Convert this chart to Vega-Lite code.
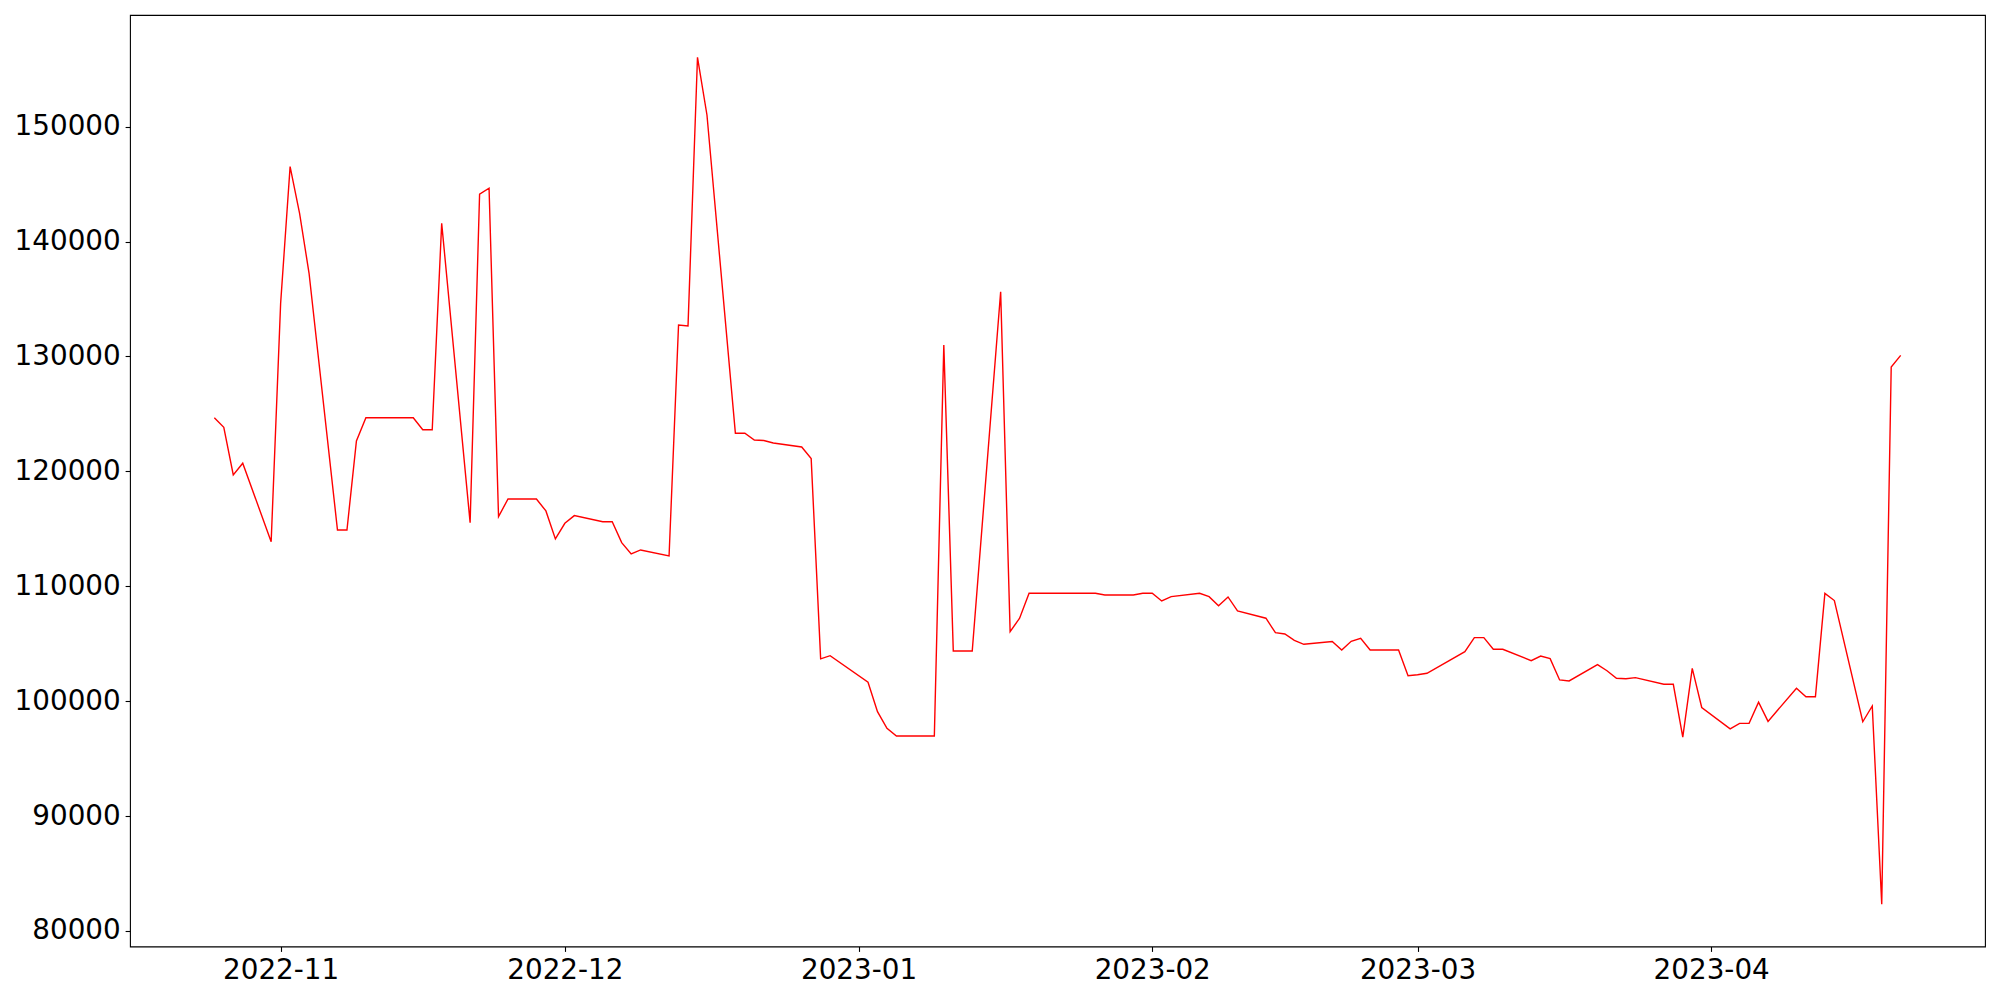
{
  "$schema": "https://vega.github.io/schema/vega-lite/v6.json",
  "autosize": {"type": "none"},
  "width": 1855,
  "height": 931.5,
  "padding": {"left": 130, "top": 15, "right": 15, "bottom": 53.5},
  "background": "white",
  "config": {
    "view": {"stroke": "black", "strokeWidth": 1.1},
    "axis": {
      "domain": false,
      "grid": false,
      "ticks": true,
      "tickSize": 4.9,
      "tickWidth": 1.1,
      "tickColor": "black",
      "labelFont": "DejaVu Sans",
      "labelFontSize": 27.8,
      "labelColor": "black",
      "labelPadding": 4.9,
      "title": null
    }
  },
  "data": {
    "values": [
      {"date": "2022-10-25", "value": 124670},
      {"date": "2022-10-26", "value": 123840},
      {"date": "2022-10-27", "value": 119690},
      {"date": "2022-10-28", "value": 120710},
      {"date": "2022-10-31", "value": 113880},
      {"date": "2022-11-01", "value": 134630},
      {"date": "2022-11-02", "value": 146520},
      {"date": "2022-11-03", "value": 142460},
      {"date": "2022-11-04", "value": 137240},
      {"date": "2022-11-07", "value": 114900},
      {"date": "2022-11-08", "value": 114900},
      {"date": "2022-11-09", "value": 122650},
      {"date": "2022-11-10", "value": 124670},
      {"date": "2022-11-11", "value": 124670},
      {"date": "2022-11-14", "value": 124670},
      {"date": "2022-11-15", "value": 124670},
      {"date": "2022-11-16", "value": 123630},
      {"date": "2022-11-17", "value": 123630},
      {"date": "2022-11-18", "value": 141590},
      {"date": "2022-11-21", "value": 115540},
      {"date": "2022-11-22", "value": 144120},
      {"date": "2022-11-23", "value": 144640},
      {"date": "2022-11-24", "value": 116060},
      {"date": "2022-11-25", "value": 117600},
      {"date": "2022-11-28", "value": 117600},
      {"date": "2022-11-29", "value": 116560},
      {"date": "2022-11-30", "value": 114120},
      {"date": "2022-12-01", "value": 115480},
      {"date": "2022-12-02", "value": 116150},
      {"date": "2022-12-05", "value": 115620},
      {"date": "2022-12-06", "value": 115620},
      {"date": "2022-12-07", "value": 113800},
      {"date": "2022-12-08", "value": 112810},
      {"date": "2022-12-09", "value": 113160},
      {"date": "2022-12-12", "value": 112640},
      {"date": "2022-12-13", "value": 132740},
      {"date": "2022-12-14", "value": 132660},
      {"date": "2022-12-15", "value": 156040},
      {"date": "2022-12-16", "value": 151020},
      {"date": "2022-12-19", "value": 123320},
      {"date": "2022-12-20", "value": 123320},
      {"date": "2022-12-21", "value": 122730},
      {"date": "2022-12-22", "value": 122690},
      {"date": "2022-12-23", "value": 122470},
      {"date": "2022-12-26", "value": 122120},
      {"date": "2022-12-27", "value": 121110},
      {"date": "2022-12-28", "value": 103680},
      {"date": "2022-12-29", "value": 103960},
      {"date": "2023-01-02", "value": 101650},
      {"date": "2023-01-03", "value": 99090},
      {"date": "2023-01-04", "value": 97640},
      {"date": "2023-01-05", "value": 96970},
      {"date": "2023-01-06", "value": 96970},
      {"date": "2023-01-09", "value": 96970},
      {"date": "2023-01-10", "value": 131000},
      {"date": "2023-01-11", "value": 104370},
      {"date": "2023-01-12", "value": 104370},
      {"date": "2023-01-13", "value": 104370},
      {"date": "2023-01-16", "value": 135640},
      {"date": "2023-01-17", "value": 106050},
      {"date": "2023-01-18", "value": 107220},
      {"date": "2023-01-19", "value": 109390},
      {"date": "2023-01-20", "value": 109390},
      {"date": "2023-01-23", "value": 109390},
      {"date": "2023-01-24", "value": 109390},
      {"date": "2023-01-25", "value": 109390},
      {"date": "2023-01-26", "value": 109390},
      {"date": "2023-01-27", "value": 109240},
      {"date": "2023-01-30", "value": 109240},
      {"date": "2023-01-31", "value": 109390},
      {"date": "2023-02-01", "value": 109390},
      {"date": "2023-02-02", "value": 108720},
      {"date": "2023-02-03", "value": 109100},
      {"date": "2023-02-06", "value": 109390},
      {"date": "2023-02-07", "value": 109100},
      {"date": "2023-02-08", "value": 108310},
      {"date": "2023-02-09", "value": 109070},
      {"date": "2023-02-10", "value": 107850},
      {"date": "2023-02-13", "value": 107220},
      {"date": "2023-02-14", "value": 105960},
      {"date": "2023-02-15", "value": 105850},
      {"date": "2023-02-16", "value": 105300},
      {"date": "2023-02-17", "value": 104950},
      {"date": "2023-02-20", "value": 105200},
      {"date": "2023-02-21", "value": 104450},
      {"date": "2023-02-22", "value": 105210},
      {"date": "2023-02-23", "value": 105480},
      {"date": "2023-02-24", "value": 104460},
      {"date": "2023-02-27", "value": 104460},
      {"date": "2023-02-28", "value": 102220},
      {"date": "2023-03-01", "value": 102300},
      {"date": "2023-03-02", "value": 102430},
      {"date": "2023-03-06", "value": 104310},
      {"date": "2023-03-07", "value": 105530},
      {"date": "2023-03-08", "value": 105530},
      {"date": "2023-03-09", "value": 104520},
      {"date": "2023-03-10", "value": 104520},
      {"date": "2023-03-13", "value": 103530},
      {"date": "2023-03-14", "value": 103930},
      {"date": "2023-03-15", "value": 103700},
      {"date": "2023-03-16", "value": 101850},
      {"date": "2023-03-17", "value": 101760},
      {"date": "2023-03-20", "value": 103180},
      {"date": "2023-03-21", "value": 102650},
      {"date": "2023-03-22", "value": 102000},
      {"date": "2023-03-23", "value": 101950},
      {"date": "2023-03-24", "value": 102050},
      {"date": "2023-03-27", "value": 101470},
      {"date": "2023-03-28", "value": 101470},
      {"date": "2023-03-29", "value": 96870},
      {"date": "2023-03-30", "value": 102850},
      {"date": "2023-03-31", "value": 99450},
      {"date": "2023-04-03", "value": 97590},
      {"date": "2023-04-04", "value": 98070},
      {"date": "2023-04-05", "value": 98070},
      {"date": "2023-04-06", "value": 99920},
      {"date": "2023-04-07", "value": 98240},
      {"date": "2023-04-10", "value": 101130},
      {"date": "2023-04-11", "value": 100380},
      {"date": "2023-04-12", "value": 100380},
      {"date": "2023-04-13", "value": 109380},
      {"date": "2023-04-14", "value": 108760},
      {"date": "2023-04-17", "value": 98210},
      {"date": "2023-04-18", "value": 99580},
      {"date": "2023-04-19", "value": 82330},
      {"date": "2023-04-20", "value": 129080},
      {"date": "2023-04-21", "value": 130100}
    ]
  },
  "mark": {"type": "line", "color": "#ff0000", "strokeWidth": 1.4, "clip": true},
  "encoding": {
    "x": {
      "field": "date",
      "type": "temporal",
      "scale": {
        "type": "utc",
        "domain": [
          {"year": 2022, "month": 10, "date": 16, "hours": 2, "minutes": 24, "utc": true},
          {"year": 2023, "month": 4, "date": 29, "hours": 21, "minutes": 36, "utc": true}
        ],
        "nice": false
      },
      "axis": {
        "values": [
          {"year": 2022, "month": 11, "date": 1, "utc": true},
          {"year": 2022, "month": 12, "date": 1, "utc": true},
          {"year": 2023, "month": 1, "date": 1, "utc": true},
          {"year": 2023, "month": 2, "date": 1, "utc": true},
          {"year": 2023, "month": 3, "date": 1, "utc": true},
          {"year": 2023, "month": 4, "date": 1, "utc": true}
        ],
        "labelExpr": "utcFormat(datum.value, '%Y-%m')",
        "labelAngle": 0
      }
    },
    "y": {
      "field": "value",
      "type": "quantitative",
      "scale": {"domain": [78650, 159720], "nice": false, "zero": false},
      "axis": {
        "values": [80000, 90000, 100000, 110000, 120000, 130000, 140000, 150000],
        "format": "d"
      }
    }
  }
}
